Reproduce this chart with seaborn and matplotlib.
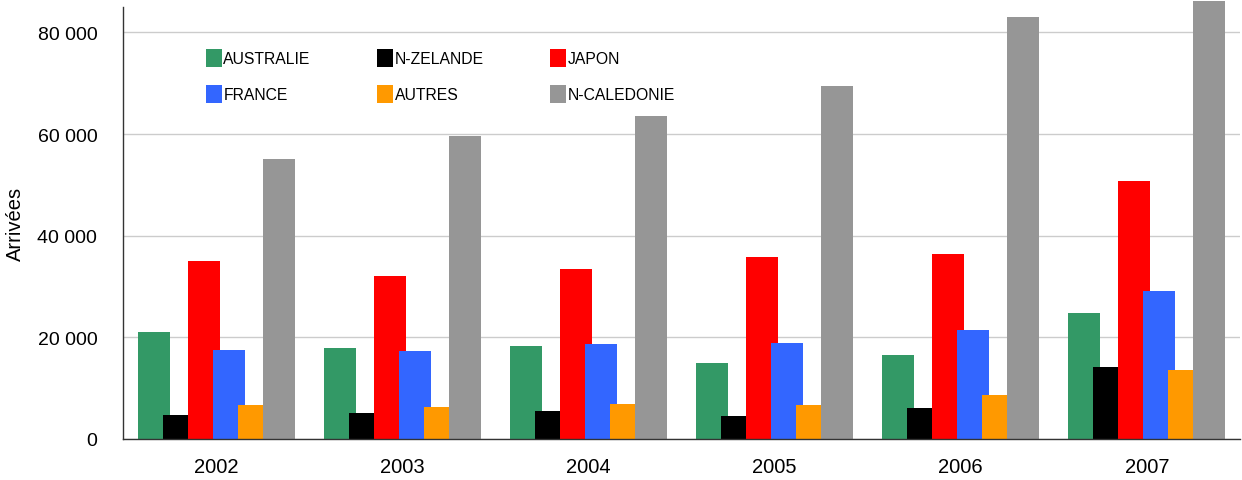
import pandas as pd
import numpy as np
import seaborn as sns
import matplotlib.pyplot as plt
from matplotlib.patches import Patch
from matplotlib.ticker import FuncFormatter

# Data
years = ["2002", "2003", "2004", "2005", "2006", "2007"]
origins = ["AUSTRALIE", "N-ZELANDE", "JAPON", "FRANCE", "AUTRES", "N-CALEDONIE"]
australie = [21100, 17900, 18300, 15000, 16500, 24800]
n_zelande = [4700, 5100, 5500, 4600, 6100, 14200]
japon = [35100, 32100, 33400, 35800, 36400, 50700]
france = [17500, 17400, 18700, 18900, 21400, 29100]
autres = [6700, 6300, 6800, 6700, 8700, 13600]
n_caledonie = [55000, 59700, 63600, 69500, 83100, 86100]

colors = ["#339966", "#000000", "#ff0000", "#3366ff", "#ff9900", "#969696"]

series = [australie, n_zelande, japon, france, autres, n_caledonie]
rows = []
for name, vals in zip(origins, series):
    for y, v in zip(years, vals):
        rows.append({"year": y, "origin": name, "arrivals": v})
df = pd.DataFrame(rows)

sns.set_style("white")
plt.rcParams["font.family"] = ["Liberation Sans", "DejaVu Sans"]
plt.rcParams["text.color"] = "black"
plt.rcParams["axes.labelcolor"] = "black"
plt.rcParams["xtick.labelcolor"] = "black"
plt.rcParams["ytick.labelcolor"] = "black"

fig = plt.figure(figsize=(12.42, 4.81), dpi=100)
ax = fig.add_axes([123 / 1242, 1 - 440 / 481, 1117 / 1242, 432 / 481])

sns.barplot(data=df, x="year", y="arrivals", hue="origin", order=years,
            hue_order=origins, palette=colors, width=0.805, dodge=True,
            saturation=1, linewidth=0, legend=False, ax=ax)

# widen bars so they overlap like the original
new_w = 0.172
for p in ax.patches:
    c = p.get_x() + p.get_width() / 2
    p.set_x(c - new_w / 2)
    p.set_width(new_w)
    p.set_clip_on(False)

ax.set_xlim(-0.5, 5.5)
ax.set_ylim(0, 85000)
ax.set_yticks(range(0, 80001, 20000))
ax.yaxis.set_major_formatter(FuncFormatter(lambda v, _: f"{int(v):,}".replace(",", " ")))
ax.yaxis.grid(True, color="#cccccc", lw=1)
ax.set_axisbelow(True)

ax.set_xticks(range(len(years)))
ax.set_xticklabels(years)
ax.set_xticks(np.arange(-0.5, 6, 1), minor=True)
ax.tick_params(axis="x", which="major", length=0, pad=13, labelsize=14.5)
ax.tick_params(axis="x", which="minor", length=5, width=1, color="#333333", direction="out")
ax.tick_params(axis="y", length=5, width=1, color="#333333", direction="out", pad=13.5, labelsize=14)

ax.set_xlabel("")
ax.set_ylabel("Arrivées", fontsize=14.5, labelpad=9)

for s in ["top", "right"]:
    ax.spines[s].set_visible(False)
for s in ["left", "bottom"]:
    ax.spines[s].set_color("#333333")
    ax.spines[s].set_linewidth(1)

# legend: row 1 AUSTRALIE, N-ZELANDE, JAPON ; row 2 FRANCE, AUTRES, N-CALEDONIE
order = [0, 3, 1, 4, 2, 5]
handles = [Patch(facecolor=colors[i], edgecolor="none", label=origins[i]) for i in order]
ax.legend(handles=handles, ncol=3, frameon=False, loc="upper left",
          bbox_to_anchor=((206 - 123) / 1117, (440 - 50) / 432), borderpad=0,
          borderaxespad=0, fontsize=11.3, handlelength=1.0, handleheight=1.35,
          handletextpad=0.1, labelspacing=1.2, columnspacing=4.25)

plt.savefig("out.png", dpi=100)
